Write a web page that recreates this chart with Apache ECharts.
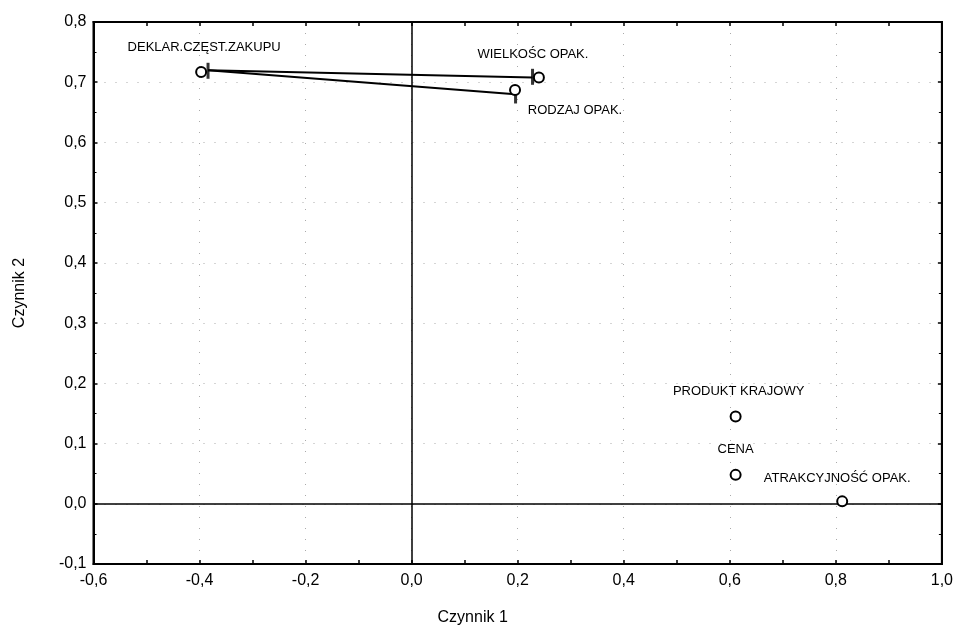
<!DOCTYPE html>
<html><head><meta charset="utf-8">
<script src="https://cdn.jsdelivr.net/npm/echarts@6/dist/echarts.min.js"></script>
<style>html,body{margin:0;padding:0;background:#fff}#c{width:956px;height:633px}</style>
</head><body><div id="c"></div>
<script>
// ---- data ----
const pointNames = ['DEKLAR.CZĘST.ZAKUPU', 'WIELKOŚC OPAK.', 'RODZAJ OPAK.', 'PRODUKT KRAJOWY', 'CENA', 'ATRAKCYJNOŚĆ OPAK.'];
const factor1 = [-0.397, 0.240, 0.195, 0.611, 0.611, 0.812];
const factor2 = [0.717, 0.708, 0.687, 0.145, 0.048, 0.004];
const connectorStart = [-0.384, 0.720];
const connectorEnds = [[0.228, 0.708], [0.195, 0.680]];
const capX = [-0.384, 0.228, 0.196];
const capY = [0.719, 0.709, 0.678];
const xTicks = [-0.6, -0.4, -0.2, 0.0, 0.2, 0.4, 0.6, 0.8, 1.0];
const yTicks = [-0.1, 0.0, 0.1, 0.2, 0.3, 0.4, 0.5, 0.6, 0.7, 0.8];
const xTitle = 'Czynnik 1';
const yTitle = 'Czynnik 2';

// ---- layout (label offsets in px) ----
const labelOffsets = [[3, -25], [-6, -23], [60, 20], [3, -25], [0, -25], [-5, -23]];

const fmt = v => v.toFixed(1).replace('.', ',');
const labelFont = "'Liberation Sans', Arial, sans-serif";
const axisFont = "'Liberation Sans', Arial, sans-serif";

const chart = echarts.init(document.getElementById('c'));
const pts = pointNames.map((n, i) => ({
  name: n,
  value: [factor1[i], factor2[i]],
  label: { offset: labelOffsets[i] }
}));
const lineSeries = connectorEnds.map(e => ({
  type: 'line',
  data: [connectorStart, e],
  symbol: 'none',
  lineStyle: { color: '#000', width: 2 },
  z: 3,
  silent: true
}));
const axisCommon = {
  type: 'value',
  axisLine: { show: true, onZero: false, lineStyle: { color: '#000', width: 2 } },
  axisTick: { show: true, inside: true, length: 4, lineStyle: { color: '#000', width: 1.5 } },
  minorTick: { show: true, splitNumber: 2, length: 3, lineStyle: { color: '#000', width: 1 } },
  splitLine: { show: true, lineStyle: { color: '#aaaaaa', type: [1, 10], width: 1 } }
};
chart.setOption({
  animation: false,
  backgroundColor: '#fff',
  grid: { left: 93.5, right: 13, top: 22, bottom: 69, show: true, borderColor: '#000', borderWidth: 2 },
  xAxis: [Object.assign({}, axisCommon, {
    min: xTicks[0], max: xTicks[xTicks.length - 1], interval: 0.2,
    minorTick: { show: true, splitNumber: 2, length: 4, lineStyle: { color: '#000', width: 1.5 } },
    axisLabel: { formatter: fmt, color: '#000', fontSize: 16, fontFamily: axisFont, margin: 9 },
    name: xTitle, nameLocation: 'middle', nameGap: 46,
    nameTextStyle: { color: '#000', fontSize: 16, fontFamily: axisFont, padding: [0, 90, 0, 0] }
  }), Object.assign({}, axisCommon, {
    position: 'top', min: xTicks[0], max: xTicks[xTicks.length - 1], interval: 0.2,
    minorTick: { show: true, splitNumber: 2, length: 4, lineStyle: { color: '#000', width: 1.5 } },
    axisLabel: { show: false }, splitLine: { show: false }
  })],
  yAxis: [Object.assign({}, axisCommon, {
    min: yTicks[0], max: yTicks[yTicks.length - 1], interval: 0.1,
    axisLabel: { formatter: fmt, color: '#000', fontSize: 16, fontFamily: axisFont, margin: 7 },
    name: yTitle, nameLocation: 'middle', nameGap: 66,
    nameTextStyle: { color: '#000', fontSize: 16, fontFamily: axisFont }
  }), Object.assign({}, axisCommon, {
    position: 'right', min: yTicks[0], max: yTicks[yTicks.length - 1], interval: 0.1,
    axisLabel: { show: false }, splitLine: { show: false }
  })],
  series: [
    {
      type: 'scatter',
      data: [],
      silent: true,
      markLine: {
        silent: true, symbol: 'none', label: { show: false },
        lineStyle: { color: '#000', type: 'solid', width: 1.5 },
        data: [{ xAxis: 0 }, { yAxis: 0 }]
      }
    },
    ...lineSeries,
    {
      type: 'scatter',
      data: capX.map((x, i) => [x, capY[i]]),
      symbol: 'rect',
      symbolSize: [3, 16],
      itemStyle: { color: '#000' },
      z: 4,
      silent: true
    },
    {
      type: 'scatter',
      data: pts,
      symbol: 'circle',
      symbolSize: 10,
      itemStyle: { color: '#fff', borderColor: '#000', borderWidth: 2, opacity: 1 },
      z: 5,
      label: {
        show: true, position: 'inside', formatter: p => p.name,
        color: '#000', fontSize: 13, fontFamily: labelFont
      }
    }
  ]
});
</script></body></html>
